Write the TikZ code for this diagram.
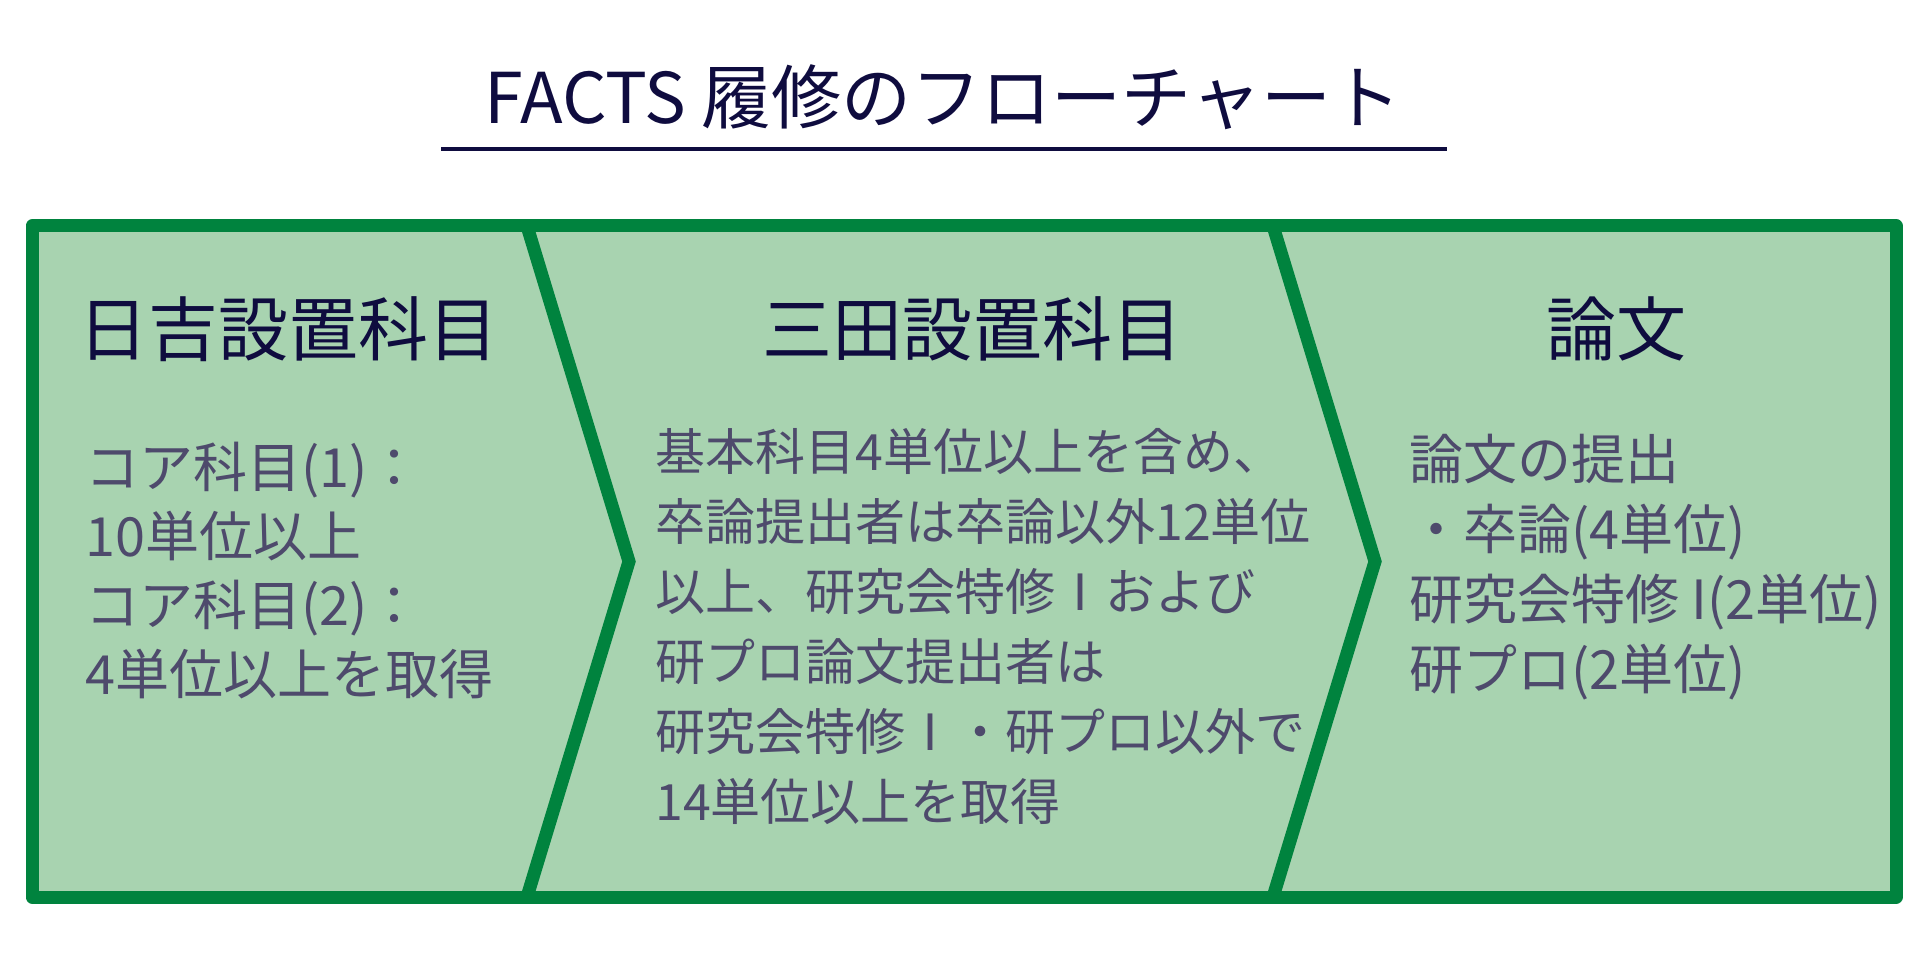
\documentclass[tikz,border=0pt]{standalone}
\usepackage{fontspec}
\setmainfont{Noto Sans CJK JP}
\definecolor{facgreen}{RGB}{0,131,62}
\definecolor{paleleaf}{RGB}{168,211,176}
\definecolor{inkblue}{RGB}{15,12,63}
\definecolor{slate}{RGB}{78,74,108}

\begin{document}
\begin{tikzpicture}[x=0.5pt, y=-0.5pt,
	heading/.style={text=inkblue, inner sep=0, font=\fontsize{35}{42}\selectfont},
	bodytext/.style={text=slate, inner sep=0, anchor=north west, align=left},
	rim/.style={facgreen, line width=6.5pt}]
				\useasboundingbox (0,0) rectangle (1920,962);
				\node[text=inkblue, inner sep=0, font=\fontsize{35}{42}\selectfont] (title) at (943,97) {FACTS 履修のフローチャート};
				\coordinate (ulleft) at (441,149);
				\coordinate (ulright) at (1447,149);
				\draw[inkblue, line width=2.25pt] (ulleft) -- (ulright);
				\fill[paleleaf] (32,226) rectangle (1896,897);
				\draw[rim] (527,226) -- (629,561.5) -- (527,897);
				\draw[rim] (1273,226) -- (1375,561.5) -- (1273,897);
				\draw[rim, line join=round] (32,226) rectangle (1896,897);
				\node[heading] (hiyoshi) at (288,329) {日吉設置科目};
				\node[heading] (mita) at (972,329) {三田設置科目};
				\node[heading] (ronbun) at (1616,329) {論文};
				\node[bodytext, font=\fontsize{27}{34.5}\selectfont] (hiyoshibody) at (85,442) {コア科目(1)：\\10単位以上\\コア科目(2)：\\4単位以上を取得};
				\node[bodytext, font=\fontsize{25}{35}\selectfont] (mitabody) at (655,428) {基本科目4単位以上を含め、\\卒論提出者は卒論以外12単位\\以上、研究会特修Ⅰおよび\\研プロ論文提出者は\\研究会特修Ⅰ・研プロ以外で\\14単位以上を取得};
				\node[bodytext, font=\fontsize{27}{35}\selectfont] (ronbunbody) at (1409,434) {論文の提出\\・卒論(4単位)\\研究会特修 I(2単位)\\研プロ(2単位)};
			\end{tikzpicture}
\end{document}
